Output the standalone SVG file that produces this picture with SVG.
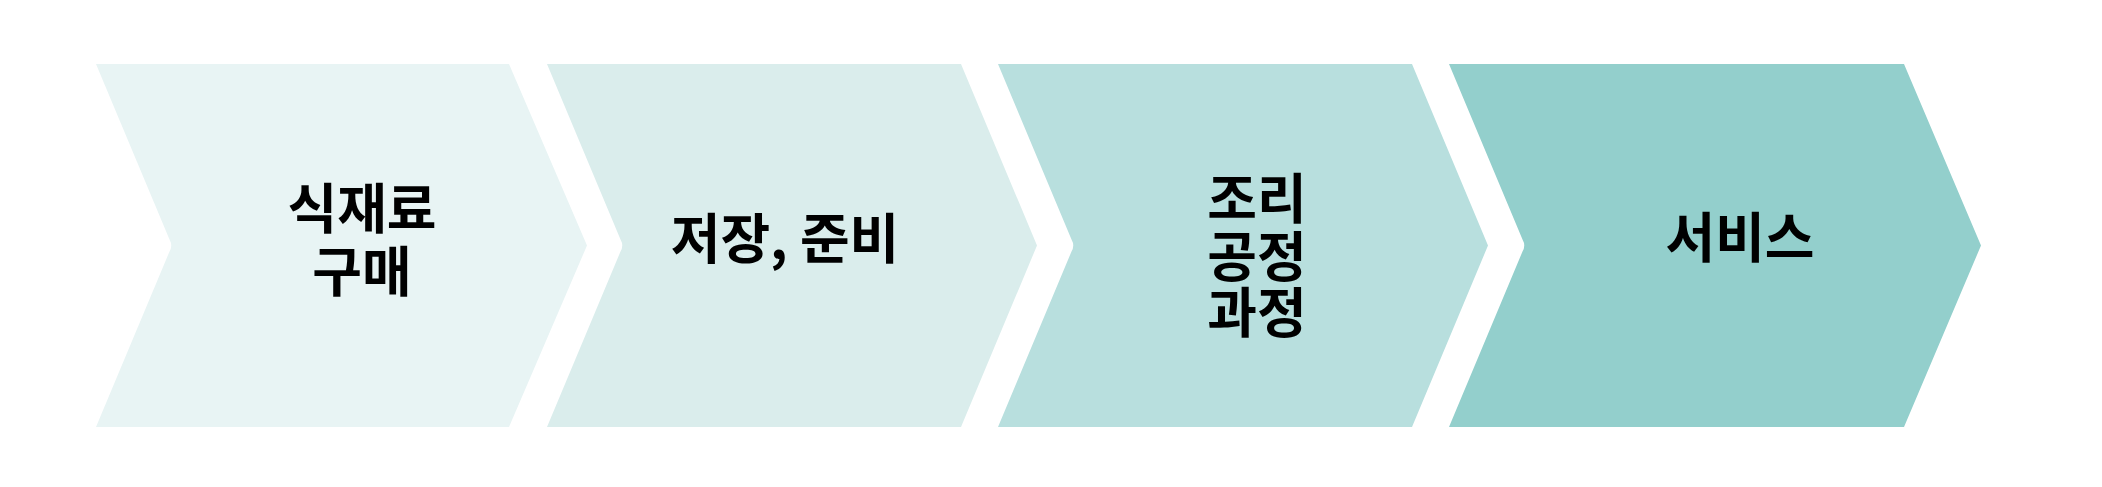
<svg xmlns="http://www.w3.org/2000/svg" width="2102" height="487" viewBox="0 0 2102 487">
<style>
.lbl{font-family:"Noto Sans CJK KR","Noto Sans",sans-serif;font-weight:700;font-size:54px;fill:#000;text-anchor:middle}
</style>
<rect width="2102" height="487" fill="#ffffff"/>
<g id="connectors"/>
<g id="step1">
<path d="M96,64 L509,64 L587,245.5 L509,427 L96,427 L169.5,251.5 Q173,245.5 169.5,239.5 Z" fill="#E8F4F4"/>
<text class="lbl"><tspan x="362" y="229">식재료</tspan><tspan x="362" y="292">구매</tspan></text>
</g>
<g id="step2">
<path d="M547,64 L961,64 L1037,245.5 L961,427 L547,427 L620.5,251.5 Q624,245.5 620.5,239.5 Z" fill="#DAEDEC"/>
<text class="lbl" x="785" y="259">저장, 준비</text>
</g>
<g id="step3">
<path d="M998,64 L1412,64 L1488,245.5 L1412,427 L998,427 L1071.5,251.5 Q1075,245.5 1071.5,239.5 Z" fill="#B8DFDE"/>
<text class="lbl"><tspan x="1257" y="219">조리</tspan><tspan x="1257" y="277">공정</tspan><tspan x="1257" y="333">과정</tspan></text>
</g>
<g id="step4">
<path d="M1449,64 L1904,64 L1981,245.5 L1904,427 L1449,427 L1522.5,251.5 Q1526,245.5 1522.5,239.5 Z" fill="#93CFCC"/>
<text class="lbl" x="1740" y="258">서비스</text>
</g>
</svg>
